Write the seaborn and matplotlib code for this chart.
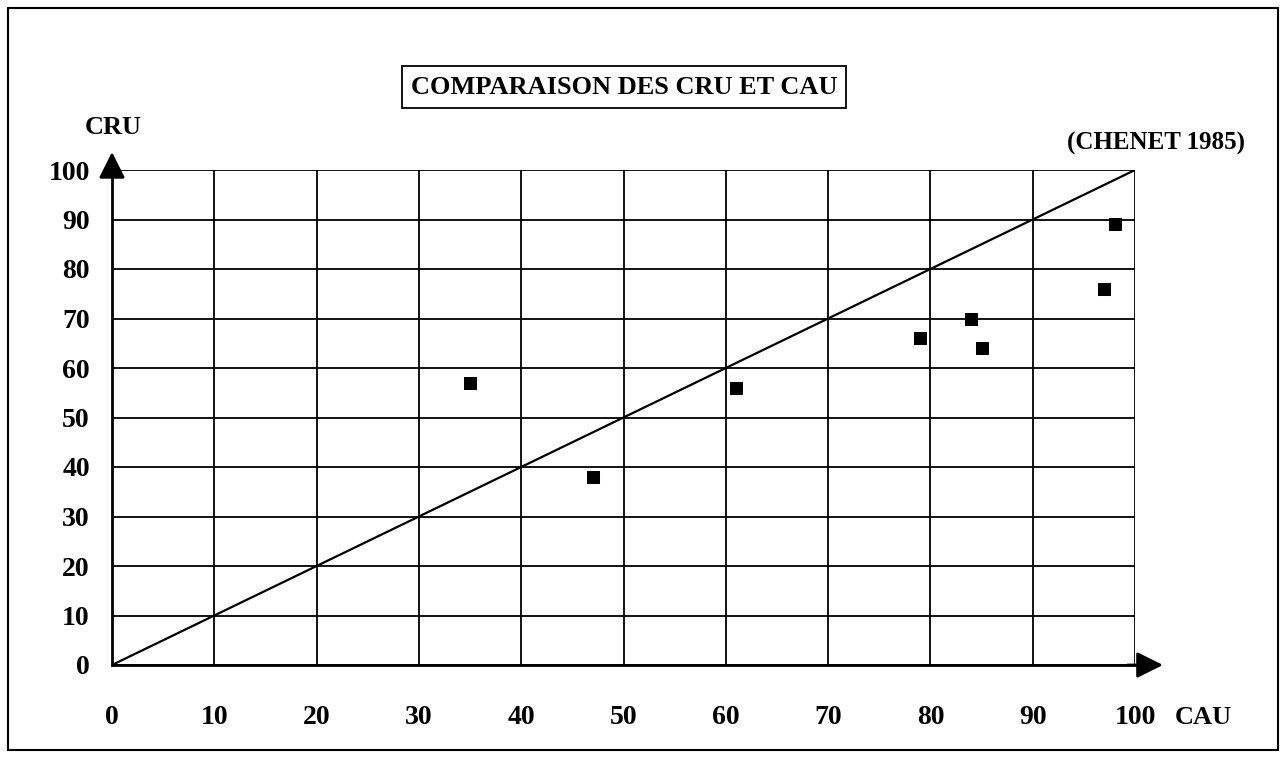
import matplotlib
matplotlib.use("Agg")
import matplotlib.pyplot as plt
import seaborn as sns
import pandas as pd
from matplotlib.patches import Rectangle

# valeurs
cau = [35, 47, 61, 79, 84, 85, 97, 98]
cru = [57, 38, 56, 66, 70, 64, 76, 89]
ligne_x = [0, 100]
ligne_y = [0, 100]
ticks = list(range(0, 101, 10))

sns.set_theme(style="white")
plt.rcParams['font.family'] = ['Liberation Serif', 'DejaVu Serif']
plt.rcParams['font.weight'] = 'bold'
plt.rcParams['text.color'] = 'black'

df = pd.DataFrame({"CAU": cau, "CRU": cru})

fig = plt.figure(figsize=(12.86, 7.58), dpi=100)
ax = fig.add_axes([112 / 1286, 1 - 665 / 758, 1023 / 1286, 495 / 758])

sns.lineplot(x=ligne_x, y=ligne_y, ax=ax, color="black", linewidth=1.6)
sns.scatterplot(data=df, x="CAU", y="CRU", ax=ax, marker="s", s=85,
                color="black", edgecolor="black", zorder=5)

ax.set_xlim(0, 100)
ax.set_ylim(0, 100)
ax.set_xticks(ticks)
ax.set_yticks(ticks)
ax.grid(True, color="black", linewidth=1.3)
ax.set_axisbelow(True)
ax.set_xlabel("")
ax.set_ylabel("")
for s in ["top", "right"]:
    ax.spines[s].set_visible(False)
for s in ["left", "bottom"]:
    ax.spines[s].set_color("black")
    ax.spines[s].set_linewidth(2)
ax.tick_params(axis="both", direction="out", length=6, width=1.5, color="black",
               labelsize=20, labelcolor="black")
ax.tick_params(axis="y", pad=10)
ax.tick_params(axis="x", pad=23)
for lab in ax.get_xticklabels() + ax.get_yticklabels():
    lab.set_fontweight("bold")

# flèches des axes
ax.annotate("", xy=(0, 1.042), xytext=(0, 0.99), xycoords="axes fraction",
            arrowprops=dict(arrowstyle="-|>", color="black", lw=2, mutation_scale=40))
ax.annotate("", xy=(1.03, 0), xytext=(0.99, 0), xycoords="axes fraction",
            arrowprops=dict(arrowstyle="-|>", color="black", lw=2, mutation_scale=40))

fig.text(113 / 1286, 1 - 128 / 758, "CRU", ha="center", va="center",
         fontsize=19, fontweight="bold")
fig.text(1175 / 1286, 1 - 717 / 758, "CAU", ha="left", va="center",
         fontsize=19, fontweight="bold")
fig.text(1245 / 1286, 1 - 143 / 758, "(CHENET 1985)", ha="right", va="center",
         fontsize=18, fontweight="bold")
fig.text(624 / 1286, 1 - 87 / 758, "COMPARAISON DES CRU ET CAU", ha="center", va="center",
         fontsize=19, fontweight="bold",
         bbox=dict(boxstyle="square,pad=0.35", facecolor="white", edgecolor="black", linewidth=1.3))

# cadre extérieur
fig.patches.append(Rectangle((8 / 1286, 8 / 758), 1270 / 1286, 742 / 758,
                             transform=fig.transFigure, fill=False,
                             edgecolor="black", linewidth=1.5))

fig.savefig("out.png", dpi=100)
